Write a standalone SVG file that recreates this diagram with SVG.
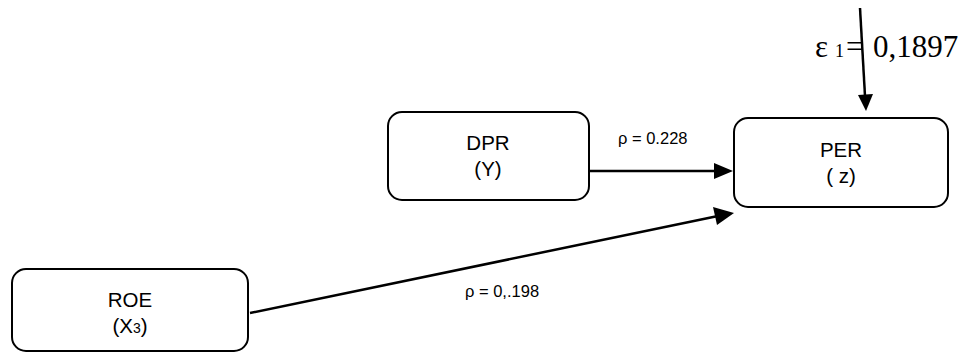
<svg xmlns="http://www.w3.org/2000/svg" width="960" height="354" viewBox="0 0 960 354">
  <style>
    .box { fill: #ffffff; stroke: #000000; stroke-width: 2; }
    .lbl { font-family: "Liberation Sans", Arial, sans-serif; font-size: 20.5px; fill: #000; text-anchor: middle; }
    .coef { font-family: "Liberation Sans", Arial, sans-serif; font-size: 16.5px; fill: #000; }
    .eps { font-family: "Liberation Serif", "Times New Roman", serif; font-size: 31px; fill: #000; }
    .edge { stroke: #000000; stroke-width: 2.5; fill: none; }
    .head { fill: #000000; }
  </style>
  <rect width="960" height="354" fill="#ffffff"/>

  <g id="node-dpr">
    <rect class="box" x="388" y="112" width="201" height="88" rx="14"/>
    <text class="lbl" x="488" y="150">DPR</text>
    <text class="lbl" x="488" y="176">(Y)</text>
  </g>

  <g id="node-per">
    <rect class="box" x="734" y="118" width="214" height="89" rx="14"/>
    <text class="lbl" x="841" y="157">PER</text>
    <text class="lbl" x="841" y="183">( z)</text>
  </g>

  <g id="node-roe">
    <rect class="box" x="12" y="269" width="236" height="82" rx="14"/>
    <text class="lbl" x="130" y="307">ROE</text>
    <text class="lbl" x="130" y="333">(X<tspan font-size="14">3</tspan>)</text>
  </g>

  <g id="connectors">
    <!-- DPR -> PER -->
    <line class="edge" x1="590" y1="171" x2="716" y2="171"/>
    <path class="head" d="M714,163 L733,171 L714,179 Z"/>
    <!-- ROE -> PER -->
    <line class="edge" x1="250" y1="313" x2="718" y2="216"/>
    <path class="head" d="M713,207 L734,213 L717,225 Z"/>
    <!-- error term -> PER -->
    <line class="edge" x1="860" y1="8" x2="865" y2="96"/>
    <path class="head" d="M858,95 L873,94 L866,111 Z"/>
  </g>

  <g id="labels">
    <text class="coef" x="618" y="144">ρ = 0.228</text>
    <text class="coef" x="465" y="297">ρ = 0,.198</text>
    <text class="eps" y="57"><tspan x="815">ε</tspan><tspan x="835" font-size="18">1</tspan><tspan x="846">=</tspan><tspan x="873">0,1897</tspan></text>
  </g>
</svg>
